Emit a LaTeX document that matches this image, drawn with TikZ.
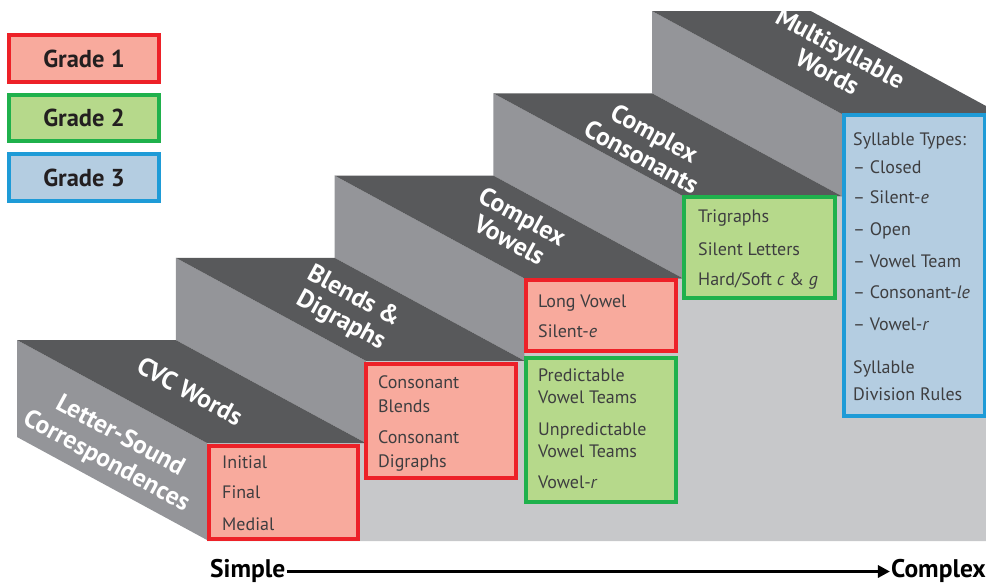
\documentclass[tikz,border=0pt]{standalone}
\usepackage{fontspec}
\setmainfont{PT Sans}
\usetikzlibrary{arrows.meta}
\definecolor{tread}{HTML}{58595B}
\definecolor{riser}{HTML}{949599}
\definecolor{frontc}{HTML}{C7C8CA}
\definecolor{redB}{HTML}{ED2128}
\definecolor{redF}{HTML}{F8AA9D}
\definecolor{grnB}{HTML}{1FB14C}
\definecolor{grnF}{HTML}{B6D98B}
\definecolor{bluB}{HTML}{1E9BD7}
\definecolor{bluF}{HTML}{B4CDE1}
\definecolor{txt}{HTML}{3E3E40}
\definecolor{legtxt}{HTML}{231F20}
\begin{document}
\begin{tikzpicture}[x=1pt,y=-1pt,
  gbox/.style={line width=4pt, anchor=north west, inner sep=0pt},
  gone/.style={gbox, draw=redB, fill=redF},
  gtwo/.style={gbox, draw=grnB, fill=grnF},
  gthree/.style={gbox, draw=bluB, fill=bluF},
  item/.style={anchor=base west, inner sep=0pt, text=txt, font=\fontsize{18}{22}\selectfont},
  steplab/.style={rotate=-28.5, align=center, text=white, inner sep=0pt, font=\bfseries\fontsize{25.5}{27}\selectfont},
  legend/.style={text=legtxt, font=\bfseries\fontsize{24.5}{27}\selectfont},
  endlab/.style={inner sep=0pt, text=black, font=\bfseries\fontsize{25.5}{28}\selectfont}]
\useasboundingbox (0,0) rectangle (986,584);
\clip (0,0) rectangle (986,584);
% front face of the staircase
\fill[frontc] (207,541) -- (207,443) -- (365.75,443) -- (365.75,360.75) -- (524.5,360.75)
  -- (524.5,278.5) -- (683.25,278.5) -- (683.25,196.25) -- (842,196.25) -- (842,114)
  -- (986,114) -- (986,541) -- cycle;
% risers (left faces) and treads (top faces)
\fill[riser] (17,340) -- (207,443) -- (207,540) -- (17,437) -- cycle;
\foreach \i in {1,...,4}{
  \pgfmathsetmacro\xb{17+158.75*\i}
  \pgfmathsetmacro\yt{340-82.25*\i}
  \fill[riser] (\xb,\yt) -- (\xb+190,\yt+103) -- (\xb+190,\yt+185.25) -- (\xb,\yt+82.25) -- cycle;
}
\foreach \i in {0,...,4}{
  \pgfmathsetmacro\xb{17+158.75*\i}
  \pgfmathsetmacro\yt{340-82.25*\i}
  \fill[tread] (\xb,\yt) -- (\xb+158.75,\yt) -- (\xb+348.75,\yt+103) -- (\xb+190,\yt+103) -- cycle;
}
% step labels
\node[steplab] (lcvc) at (190,391) {CVC Words};
\node[steplab] (llsc) at (113,449) {Letter-Sound\\[2pt]Correspondences};
\node[steplab] (lbd) at (347,309) {Blends \&\\Digraphs};
\node[steplab] (lcv) at (516,228) {Complex\\Vowels};
\node[steplab] (lcc) at (648,145) {Complex\\Consonants};
\node[steplab] (lmw) at (834,60) {Multisyllable\\Words};
% grade boxes on the front face
\node[gone, minimum width=149pt, minimum height=93pt] (b1) at (207,444) {};
\node[gone, minimum width=150pt, minimum height=114pt] (b2) at (364,362) {};
\node[gone, minimum width=150pt, minimum height=71pt] (b3a) at (524,278) {};
\node[gtwo, minimum width=150pt, minimum height=144pt] (b3b) at (524,356) {};
\node[gtwo, minimum width=151pt, minimum height=101pt] (b4) at (682,195) {};
\node[gthree, minimum width=141pt, minimum height=301pt] (b5) at (842,113) {};
% box texts
\node[item] (t11) at (222,468) {Initial};
\node[item] (t12) at (222,498) {Final};
\node[item] (t13) at (222,530) {Medial};
\node[item] (t21) at (378,388) {Consonant};
\node[item] (t22) at (378,412) {Blends};
\node[item] (t23) at (378,443) {Consonant};
\node[item] (t24) at (378,467) {Digraphs};
\node[item] (t31) at (538,307) {Long Vowel};
\node[item] (t32) at (538,337) {Silent-\textit{e}};
\node[item] (t33) at (538,381) {Predictable};
\node[item] (t34) at (538,403) {Vowel Teams};
\node[item] (t35) at (538,435) {Unpredictable};
\node[item] (t36) at (538,457) {Vowel Teams};
\node[item] (t37) at (538,488) {Vowel-\textit{r}};
\node[item] (t41) at (698,222) {Trigraphs};
\node[item] (t42) at (698,255) {Silent Letters};
\node[item] (t43) at (698,285) {Hard/Soft \textit{c} \& \textit{g}};
\node[item] (t51) at (853,145) {Syllable Types:};
\node[item] (t52) at (853,173) {– Closed};
\node[item] (t53) at (853,203) {– Silent-\textit{e}};
\node[item] (t54) at (853,235) {– Open};
\node[item] (t55) at (853,267) {– Vowel Team};
\node[item] (t56) at (853,298) {– Consonant-\textit{le}};
\node[item] (t57) at (853,330) {– Vowel-\textit{r}};
\node[item] (t58) at (853,373) {Syllable};
\node[item] (t59) at (853,400) {Division Rules};
% legend
\node[gone, minimum width=150pt, minimum height=47pt] (g1) at (7,33) {};
\node[legend] (g1t) at (g1.center) {Grade 1};
\node[gtwo, minimum width=150pt, minimum height=46pt] (g2) at (7,93) {};
\node[legend] (g2t) at (g2.center) {Grade 2};
\node[gthree, minimum width=150pt, minimum height=47pt] (g3) at (7,152) {};
\node[legend] (g3t) at (g3.center) {Grade 3};
% simple -> complex
\node[endlab, anchor=base west] (simple) at (210,577) {Simple};
\node[endlab, anchor=base east] (complex) at (986,577) {Complex};
\draw[line width=3pt, -{Triangle[length=12pt,width=12pt]}]
  ([xshift=1pt,yshift=3pt]simple.mid east) -- ([xshift=-1pt,yshift=3pt]complex.mid west);
\end{tikzpicture}
\end{document}
